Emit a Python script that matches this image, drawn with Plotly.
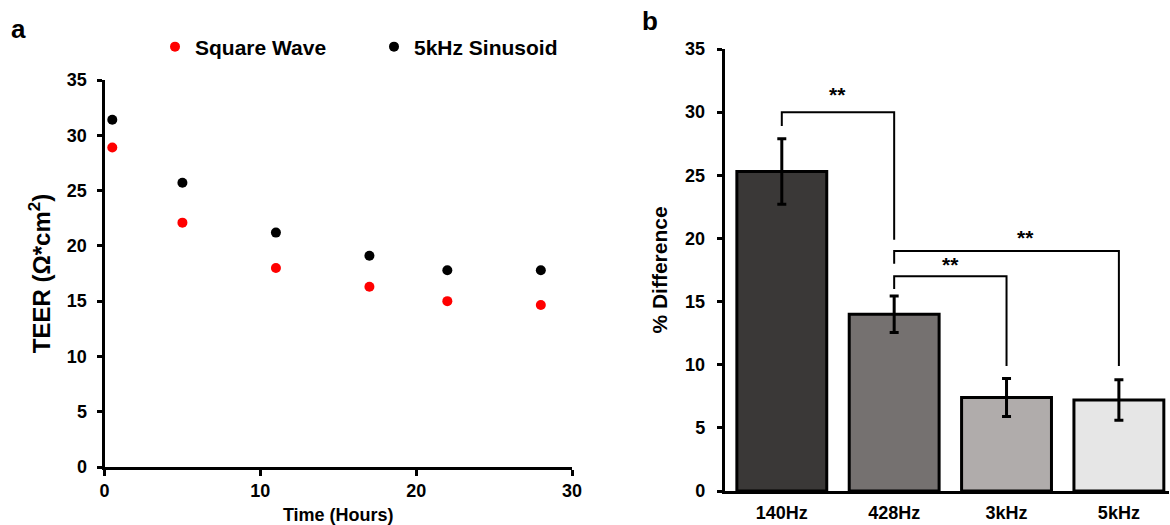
import plotly.graph_objects as go

# ---------------- data ----------------
time_hours = [0.5, 5, 11, 17, 22, 28]
square_wave = [28.9, 22.1, 18.0, 16.3, 15.0, 14.65]
sinusoid_5khz = [31.4, 25.7, 21.2, 19.1, 17.8, 17.8]
series_names = ["Square Wave", "5kHz Sinusoid"]

freq_labels = ["140Hz", "428Hz", "3kHz", "5kHz"]
pct_diff = [25.3, 14.0, 7.4, 7.2]
pct_err = [2.6, 1.45, 1.5, 1.6]
bar_colors = ["#3a3837", "#757170", "#b0acab", "#e6e6e6"]

# significance brackets: (left category, right category, top y, left leg bottom, right leg bottom)
bracket_left = ["140Hz", "428Hz", "428Hz"]
bracket_right = ["428Hz", "3kHz", "5kHz"]
bracket_top = [30.0, 17.0, 19.0]
bracket_left_bottom = [28.9, 16.0, 18.0]
bracket_right_bottom = [19.9, 9.9, 9.9]
star_x = [0.5, 1.5, 2.17]
star_y = [31.4, 17.9, 20.1]
star_text = ["**", "**", "**"]

panel_labels = ["a", "b"]

FONT = "Liberation Sans, Arial, Helvetica, sans-serif"

fig = go.Figure()

# ---------------- panel a ----------------
fig.add_trace(go.Scatter(
    x=time_hours, y=square_wave, mode="markers", name=series_names[0],
    marker=dict(color="#ff0000", size=10), xaxis="x", yaxis="y"))
fig.add_trace(go.Scatter(
    x=time_hours, y=sinusoid_5khz, mode="markers", name=series_names[1],
    marker=dict(color="#000000", size=10), xaxis="x", yaxis="y"))

# ---------------- panel b ----------------
fig.add_trace(go.Bar(
    x=freq_labels, y=pct_diff, xaxis="x2", yaxis="y2", showlegend=False,
    marker=dict(color=bar_colors, line=dict(color="black", width=3)),
    error_y=dict(type="data", array=pct_err, visible=True,
                 color="black", thickness=3, width=4.5)))

for i in range(len(bracket_left)):
    fig.add_trace(go.Scatter(
        x=[bracket_left[i], bracket_left[i], bracket_right[i], bracket_right[i]],
        y=[bracket_left_bottom[i], bracket_top[i], bracket_top[i], bracket_right_bottom[i]],
        mode="lines", line=dict(color="black", width=2),
        xaxis="x2", yaxis="y2", showlegend=False, hoverinfo="skip"))

annotations = []
for sx, sy, st in zip(star_x, star_y, star_text):
    annotations.append(dict(x=sx, y=sy, xref="x2", yref="y2", text=st,
                            showarrow=False, xanchor="center", yanchor="middle",
                            font=dict(family=FONT, size=21, color="black", weight="bold")))

annotations.append(dict(x=18 / 1170, y=1 - 29 / 525, xref="paper", yref="paper", text=panel_labels[0],
                        showarrow=False, xanchor="center", yanchor="middle",
                        font=dict(family=FONT, size=26, color="black", weight="bold")))
annotations.append(dict(x=650 / 1170, y=1 - 21 / 525, xref="paper", yref="paper", text=panel_labels[1],
                        showarrow=False, xanchor="center", yanchor="middle",
                        font=dict(family=FONT, size=26, color="black", weight="bold")))

tickfont = dict(family=FONT, size=18, color="black", weight="bold")

fig.update_layout(
    width=1170, height=525,
    margin=dict(l=0, r=0, t=0, b=0, autoexpand=False),
    paper_bgcolor="white", plot_bgcolor="white",
    font=dict(family=FONT, color="black"),
    bargap=0.2,
    showlegend=True,
    legend=dict(orientation="h", x=155 / 1170, y=1 - 47 / 525, xanchor="left", yanchor="middle",
                font=dict(family=FONT, size=21, color="black", weight="bold"),
                entrywidth=174, entrywidthmode="pixels",
                bgcolor="rgba(0,0,0,0)"),
    annotations=annotations,
    xaxis=dict(domain=[104.5 / 1170, 572 / 1170], range=[0, 30], tickvals=[0, 10, 20, 30],
               showline=True, linecolor="black", linewidth=3, ticks="outside", ticklen=6,
               tickwidth=3, tickcolor="black", showgrid=False, zeroline=False,
               tickfont=tickfont, ticklabelstandoff=-1, automargin=False,
               title=dict(text="Time (Hours)", font=dict(family=FONT, size=18, color="black", weight="bold"),
                          standoff=21),
               anchor="y", fixedrange=True),
    xaxis3=dict(domain=[104.5 / 1170, 572 / 1170], range=[0, 30], tickvals=[0, 10, 20, 30],
                overlaying="x", anchor="y", ticks="inside", ticklen=6, tickwidth=3,
                tickcolor="black", showticklabels=False, showgrid=False, zeroline=False,
                showline=False, automargin=False),
    yaxis=dict(domain=[1 - 467 / 525, 1 - 80 / 525], range=[0, 35], tickvals=[0, 5, 10, 15, 20, 25, 30, 35],
               showline=True, linecolor="black", linewidth=3, ticks="outside", ticklen=5,
               tickwidth=3, tickcolor="black", showgrid=False, zeroline=False,
               tickfont=tickfont, ticklabelstandoff=6, automargin=False,
               title=dict(text="TEER (Ω*cm<sup>2</sup>)",
                          font=dict(family=FONT, size=24, color="black", weight="bold"), standoff=10),
               anchor="x", fixedrange=True),
    xaxis2=dict(domain=[724.5 / 1170, 1169 / 1170], range=[-0.51, 3.446], type="category",
                showline=True, linecolor="black", linewidth=3, ticks="", showgrid=False,
                zeroline=False, tickfont=dict(family=FONT, size=18, color="black", weight="bold"),
                ticklabelstandoff=3, anchor="y2", fixedrange=True, automargin=False),
    yaxis2=dict(domain=[1 - 491 / 525, 1 - 49 / 525], range=[0, 35], tickvals=[0, 5, 10, 15, 20, 25, 30, 35],
                showline=True, linecolor="black", linewidth=2.5, ticks="outside", ticklen=5,
                tickwidth=2.5, tickcolor="black", showgrid=False, zeroline=False,
                tickfont=tickfont, ticklabelstandoff=8, automargin=False,
                title=dict(text="% Difference",
                           font=dict(family=FONT, size=21, color="black", weight="bold"), standoff=12),
                anchor="x2", fixedrange=True),
)

fig.write_html("out.html")
